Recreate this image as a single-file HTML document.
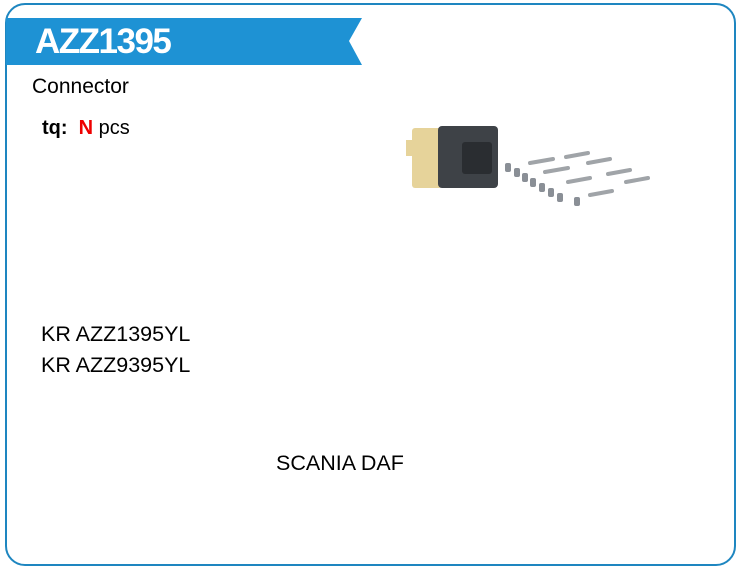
<!DOCTYPE html>
<html><head><meta charset="utf-8"><style>
html,body{margin:0;padding:0;background:#fff;}
body{width:740px;height:576px;position:relative;overflow:hidden;font-family:"Liberation Sans",sans-serif;}
.frame{position:absolute;left:5px;top:3px;width:727px;height:559px;border:2px solid #1e86c0;border-radius:20px;}
.t{position:absolute;color:#000;white-space:nowrap;}
</style></head><body>
<div class="frame"></div>
<svg width="740" height="576" style="position:absolute;left:0;top:0">
<polygon points="6,18 362,18 349,41 362,65 6,65" fill="#1e92d4"/>
<rect x="412" y="128" width="30" height="60" rx="3" fill="#e6d39a"/>
<rect x="406" y="140" width="10" height="16" fill="#e6d39a"/>
<rect x="438" y="126" width="60" height="62" rx="4" fill="#3e4247"/>
<rect x="462" y="142" width="30" height="32" rx="3" fill="#2a2d31"/>
<g fill="#8a8f96">
<rect x="505" y="163" width="6" height="9" rx="2"/><rect x="514" y="168" width="6" height="9" rx="2"/>
<rect x="522" y="173" width="6" height="9" rx="2"/><rect x="530" y="178" width="6" height="9" rx="2"/>
<rect x="539" y="183" width="6" height="9" rx="2"/><rect x="548" y="188" width="6" height="9" rx="2"/>
<rect x="557" y="193" width="6" height="9" rx="2"/><rect x="574" y="197" width="6" height="9" rx="2"/>
</g>
<g stroke="#a0a4a8" stroke-width="4" stroke-linecap="round">
<line x1="530" y1="163" x2="553" y2="159"/><line x1="566" y1="157" x2="588" y2="153"/>
<line x1="545" y1="172" x2="568" y2="168"/><line x1="588" y1="163" x2="610" y2="159"/>
<line x1="568" y1="182" x2="590" y2="178"/><line x1="608" y1="174" x2="630" y2="170"/>
<line x1="590" y1="195" x2="612" y2="191"/><line x1="626" y1="182" x2="648" y2="178"/>
</g>
</svg>
<div class="t" style="left:35px;top:18px;font-size:35px;font-weight:bold;color:#fff;line-height:47px;letter-spacing:-1.5px">AZZ1395</div>
<div class="t" style="left:32px;top:75px;font-size:21px">Connector</div>
<div class="t" style="left:42px;top:117px;font-size:20px"><b>tq:</b>&nbsp; <b style="color:#e00">N</b> pcs</div>
<div class="t" style="left:41px;top:322px;font-size:21.5px">KR AZZ1395YL</div>
<div class="t" style="left:41px;top:353px;font-size:21.5px">KR AZZ9395YL</div>
<div class="t" style="left:276px;top:451px;font-size:21.5px">SCANIA DAF</div>
</body></html>
